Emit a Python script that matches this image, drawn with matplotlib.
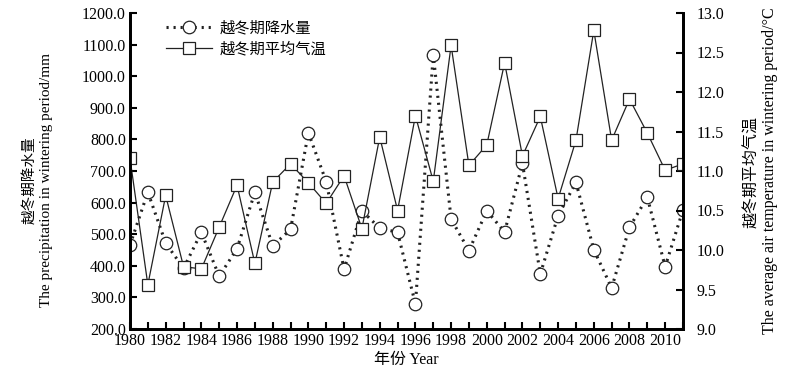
import numpy as np
import matplotlib.pyplot as plt

years = list(range(1980, 2012))
precip = [466, 633, 472, 392, 506, 367, 454, 633, 463, 515, 821, 666, 389, 574, 519, 506,
          279, 1068, 548, 448, 574, 507, 724, 374, 559, 664, 451, 330, 522, 617, 397, 577]
temp = [11.16, 9.56, 10.69, 9.79, 9.76, 10.29, 10.82, 9.83, 10.86, 11.09, 10.85, 10.59, 10.94, 10.27, 11.43, 10.50,
        11.70, 10.87, 12.59, 11.07, 11.33, 12.37, 11.19, 11.69, 10.65, 11.39, 12.78, 11.39, 11.91, 11.48, 11.01, 11.09]

fam = ['Liberation Serif', 'Noto Sans CJK SC']
plt.rcParams['font.family'] = fam
plt.rcParams['font.size'] = 11

fig = plt.figure(figsize=(8.03, 3.73), dpi=100)
ax = fig.add_axes([130/803, 1-329/373, 553/803, 316/373])
ax2 = ax.twinx()

l1, = ax.plot(years, precip, color='#222222', lw=2.2, linestyle=(0, (0.7, 1.6)),
              marker='o', markersize=9, markerfacecolor='white', markeredgecolor='#222222',
              markeredgewidth=0.9, label='越冬期降水量')
l2, = ax2.plot(years, temp, color='#222222', lw=0.9, marker='s', markersize=9,
               markerfacecolor='white', markeredgecolor='#222222', markeredgewidth=0.9,
               label='越冬期平均气温')

ax.set_xlim(1980, 2011)
ax.set_ylim(200, 1200)
ax2.set_ylim(9.0, 13.0)
ax.set_xticks(range(1980, 2012))
ax.set_xticklabels([str(y) if y % 2 == 0 else '' for y in range(1980, 2012)])
ax.set_yticks(np.arange(200, 1201, 100))
ax.set_yticklabels(['%.1f' % v for v in np.arange(200, 1201, 100)])
ax2.set_yticks(np.arange(9.0, 13.01, 0.5))
ax2.set_yticklabels(['%.1f' % v for v in np.arange(9.0, 13.01, 0.5)])

for a in (ax, ax2):
    a.spines['top'].set_visible(False)
    for s in ('left', 'right', 'bottom'):
        a.spines[s].set_linewidth(2)
ax.tick_params(axis='both', direction='in', length=5, width=1.5, labelsize=11.5)
ax.tick_params(axis='x', pad=3)
ax.tick_params(axis='y', pad=3)
ax2.tick_params(axis='y', direction='in', length=5, width=1.5, labelsize=11.5, pad=10)

ax.set_xlabel('年份 Year', fontsize=11.5, labelpad=2)

# axis titles (two lines each, placed like the original)
fig.text(29/803, 1-180/373, '越冬期降水量', rotation=90, ha='center', va='center', fontsize=10.5)
fig.text(47/803, 1-180/373, 'The precipitation in wintering period/mm', rotation=90,
         ha='center', va='center', fontsize=11)
fig.text(752/803, 1-172/373, '越冬期平均气温', rotation=90, ha='center', va='center', fontsize=11.5)
fig.text(770/803, 1-171/373, 'The average air temperature in wintering period/°C', rotation=90,
         ha='center', va='center', fontsize=11.5)

ax.legend(handles=[l1, l2], loc='upper left', bbox_to_anchor=(0.04, 1.02), frameon=False,
          fontsize=11, handlelength=3, handletextpad=0.5, labelspacing=0.4)

fig.savefig('out.png', dpi=100)
